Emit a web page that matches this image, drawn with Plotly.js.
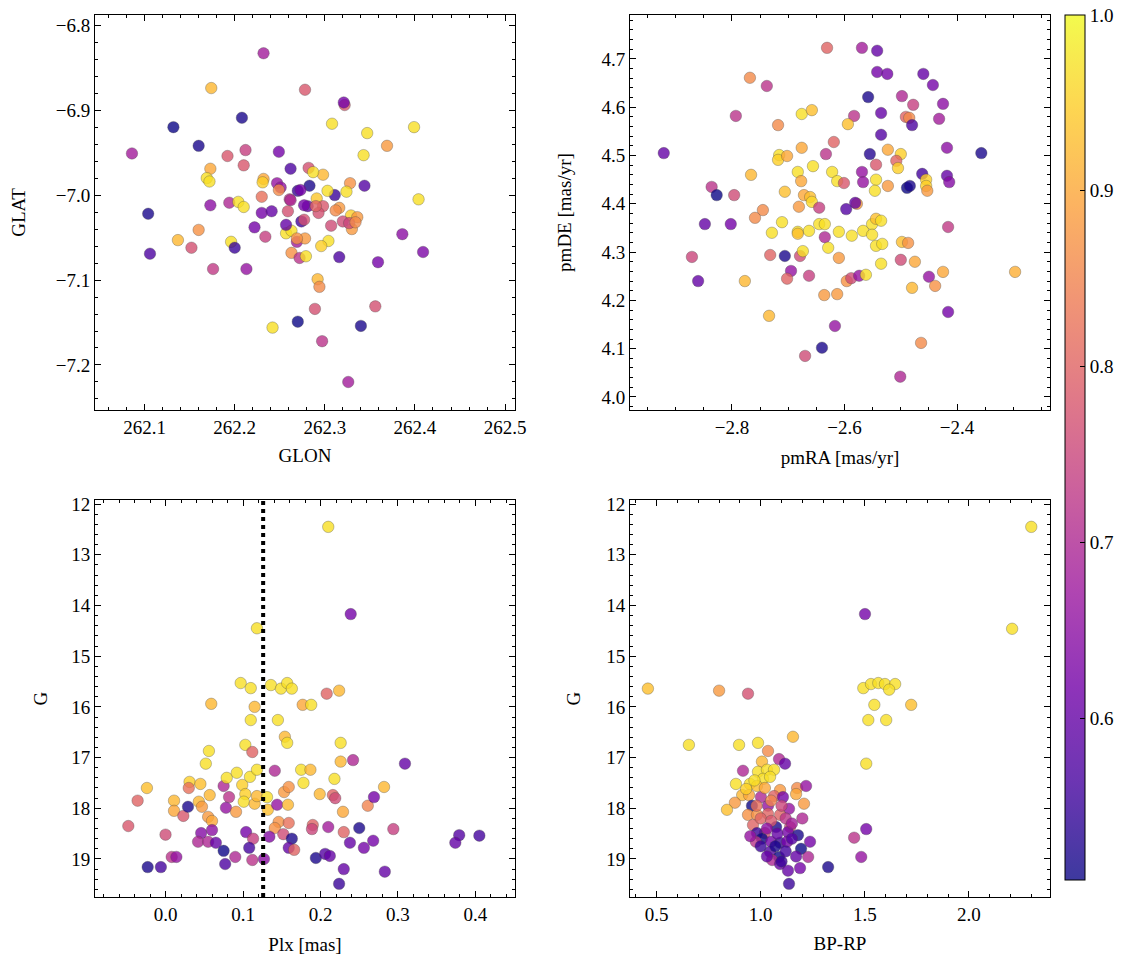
<!DOCTYPE html>
<html><head><meta charset="utf-8">
<script src="https://cdn.plot.ly/plotly-3.0.1.min.js"></script>
<style>html,body{margin:0;padding:0;background:#fff}#chart{width:1133px;height:965px}</style>
</head><body><div id="chart"></div>
<script>
// Panel 1: position
const glon = [262.232,262.174,262.278,262.132,262.208,262.086,262.160,262.192,262.212,262.210,262.249,262.262,262.282,262.173,262.169,262.172,262.232,262.231,262.230,262.247,262.251,262.270,262.261,262.173,262.194,262.204,262.210,262.104,262.230,262.241,262.322,262.321,262.308,262.347,262.399,262.369,262.343,262.404,262.344,262.328,262.324,262.311,262.298,262.287,262.283,262.273,262.303,262.291,262.281,262.298,262.316,262.222,262.234,262.274,262.257,262.263,262.269,262.263,262.272,262.160,262.137,262.152,262.106,262.196,262.200,262.176,262.213,262.242,262.270,262.386,262.409,262.316,262.359,262.292,262.294,262.289,262.356,262.340,262.297,262.326,262.304,262.296,262.279,262.277,262.293,262.329,262.336,262.320,262.307,262.330,262.278,262.249,262.262,262.259,262.290,262.312,262.277,262.327,262.334,262.257,262.269];
const glat = [-6.833,-6.874,-6.876,-6.920,-6.909,-6.951,-6.942,-6.954,-6.947,-6.965,-6.949,-6.969,-6.968,-6.969,-6.980,-6.984,-6.981,-6.985,-7.002,-6.986,-6.991,-6.995,-7.005,-7.012,-7.009,-7.008,-7.014,-7.022,-7.021,-7.019,-6.894,-6.891,-6.916,-6.927,-6.920,-6.942,-6.953,-7.005,-6.989,-6.986,-6.996,-7.000,-6.976,-6.973,-6.989,-6.994,-6.995,-7.004,-7.013,-7.013,-7.015,-7.038,-7.049,-7.031,-7.045,-7.042,-7.055,-7.068,-7.074,-7.041,-7.053,-7.062,-7.069,-7.055,-7.062,-7.087,-7.087,-7.156,-7.149,-7.046,-7.067,-7.073,-7.079,-7.099,-7.108,-7.134,-7.131,-7.154,-7.172,-7.220,-7.054,-7.060,-7.072,-7.012,-7.021,-7.024,-7.026,-7.031,-7.036,-7.040,-7.051,-6.994,-7.006,-7.019,-7.013,-7.018,-7.029,-7.033,-7.032,-7.035,-7.051];
const probPos = [0.68,0.92,0.78,0.50,0.52,0.68,0.52,0.78,0.74,0.78,0.62,0.57,0.77,0.90,0.97,0.97,0.90,0.95,0.82,0.66,0.66,0.55,0.72,0.65,0.70,0.97,0.97,0.52,0.62,0.60,0.78,0.62,0.97,0.97,0.97,0.88,0.97,0.97,0.58,0.87,0.97,0.55,0.92,0.97,0.52,0.62,0.97,0.94,0.60,0.78,0.88,0.62,0.74,0.56,0.97,0.97,0.68,0.87,0.72,0.87,0.92,0.77,0.57,0.97,0.55,0.73,0.66,0.97,0.50,0.65,0.63,0.57,0.62,0.92,0.86,0.77,0.77,0.52,0.72,0.68,0.97,0.95,0.97,0.62,0.77,0.95,0.88,0.76,0.76,0.88,0.88,0.86,0.70,0.77,0.80,0.86,0.77,0.75,0.86,0.60,0.87];

// Panel 2: proper motions
const pmra = [-2.631,-2.768,-2.738,-2.793,-2.676,-2.658,-2.718,-2.619,-2.633,-2.921,-2.716,-2.718,-2.702,-2.676,-2.656,-2.683,-2.677,-2.622,-2.613,-2.766,-2.836,-2.827,-2.796,-2.706,-2.672,-2.661,-2.658,-2.681,-2.745,-2.645,-2.569,-2.542,-2.542,-2.524,-2.460,-2.443,-2.558,-2.498,-2.478,-2.425,-2.535,-2.583,-2.594,-2.491,-2.485,-2.480,-2.432,-2.535,-2.523,-2.500,-2.508,-2.505,-2.555,-2.544,-2.418,-2.357,-2.569,-2.567,-2.601,-2.544,-2.546,-2.523,-2.462,-2.489,-2.484,-2.455,-2.455,-2.453,-2.418,-2.414,-2.578,-2.581,-2.597,-2.759,-2.848,-2.802,-2.711,-2.729,-2.683,-2.683,-2.663,-2.645,-2.635,-2.635,-2.629,-2.871,-2.732,-2.706,-2.679,-2.674,-2.695,-2.702,-2.663,-2.860,-2.777,-2.636,-2.613,-2.734,-2.617,-2.640,-2.670,-2.416,-2.587,-2.567,-2.551,-2.544,-2.535,-2.551,-2.544,-2.533,-2.610,-2.535,-2.500,-2.498,-2.487,-2.475,-2.425,-2.297,-2.450,-2.439,-2.480,-2.596,-2.588,-2.574,-2.562,-2.416,-2.464,-2.501,-2.610];
const pmde = [4.723,4.661,4.644,4.582,4.586,4.594,4.563,4.528,4.503,4.505,4.501,4.491,4.499,4.516,4.478,4.466,4.447,4.466,4.447,4.460,4.435,4.418,4.418,4.425,4.418,4.414,4.404,4.394,4.387,4.392,4.723,4.717,4.673,4.669,4.669,4.646,4.621,4.623,4.605,4.607,4.588,4.582,4.565,4.580,4.578,4.563,4.576,4.543,4.512,4.503,4.489,4.474,4.503,4.481,4.516,4.505,4.466,4.445,4.443,4.450,4.427,4.437,4.462,4.433,4.437,4.450,4.437,4.427,4.458,4.445,4.400,4.402,4.389,4.371,4.358,4.358,4.362,4.340,4.342,4.338,4.344,4.358,4.358,4.331,4.309,4.290,4.294,4.292,4.292,4.302,4.261,4.245,4.251,4.240,4.240,4.211,4.213,4.168,4.147,4.102,4.085,4.352,4.334,4.344,4.358,4.369,4.365,4.336,4.313,4.317,4.288,4.276,4.284,4.321,4.319,4.280,4.259,4.259,4.249,4.230,4.226,4.240,4.246,4.251,4.253,4.176,4.112,4.042,4.342];
const probPm = [0.80,0.86,0.72,0.72,0.97,0.93,0.86,0.80,0.72,0.60,0.97,0.95,0.90,0.90,0.97,0.97,0.90,0.97,0.97,0.92,0.72,0.50,0.76,0.93,0.90,0.93,0.96,0.88,0.86,0.74,0.68,0.60,0.62,0.62,0.60,0.62,0.52,0.70,0.74,0.65,0.60,0.72,0.93,0.80,0.86,0.57,0.68,0.58,0.90,0.95,0.80,0.95,0.53,0.78,0.65,0.52,0.66,0.66,0.78,0.97,0.97,0.88,0.56,0.50,0.52,0.95,0.95,0.88,0.60,0.64,0.88,0.60,0.58,0.86,0.60,0.62,0.97,0.97,0.97,0.93,0.97,0.97,0.97,0.70,0.97,0.75,0.80,0.52,0.76,0.97,0.66,0.80,0.74,0.60,0.92,0.88,0.88,0.92,0.66,0.52,0.76,0.73,0.97,0.97,0.97,0.93,0.97,0.97,0.97,0.97,0.88,0.97,0.76,0.93,0.87,0.90,0.90,0.91,0.66,0.87,0.92,0.87,0.76,0.66,0.97,0.62,0.86,0.70,0.97];

// Panel 3: parallax vs G
const plx = [0.097,0.110,0.136,0.149,0.157,0.163,0.059,0.115,0.110,0.145,0.154,0.157,0.103,0.112,0.056,0.052,0.141,0.031,0.045,-0.024,-0.036,-0.048,0.000,0.030,0.011,0.011,0.023,0.029,0.043,0.047,0.057,0.055,0.060,0.046,0.060,0.042,0.055,0.065,0.075,0.077,0.090,-0.023,-0.006,0.008,0.014,0.075,0.079,0.092,0.082,0.078,0.091,0.099,0.103,0.109,0.118,0.101,0.115,0.118,0.131,0.132,0.144,0.158,0.153,0.159,0.146,0.159,0.141,0.152,0.134,0.163,0.159,0.166,0.104,0.113,0.108,0.112,0.127,0.175,0.178,0.177,0.188,0.208,0.224,0.226,0.226,0.242,0.218,0.199,0.216,0.219,0.229,0.261,0.269,0.282,0.309,0.190,0.189,0.210,0.230,0.250,0.294,0.238,0.256,0.268,0.194,0.206,0.212,0.230,0.224,0.283,0.379,0.374,0.405,0.210,0.239,0.118,0.187];
const gPlx = [15.53,15.63,15.57,15.64,15.53,15.64,15.94,16.00,16.26,16.26,16.59,16.71,16.75,16.89,16.87,17.12,17.26,17.48,17.52,17.60,17.85,18.35,18.52,17.60,17.85,18.05,18.15,17.97,17.87,17.97,17.74,18.17,18.25,18.49,18.43,18.66,18.66,18.68,18.84,19.10,18.96,19.16,19.16,18.96,18.96,17.56,17.40,17.30,17.78,17.99,18.07,17.54,17.72,17.38,17.24,17.87,17.91,17.76,17.78,18.03,17.93,17.93,17.68,17.58,18.27,18.29,18.39,18.51,18.56,18.60,18.78,18.82,18.47,18.60,18.78,19.02,19.00,17.24,17.50,15.96,15.96,15.74,15.68,16.71,17.08,17.05,17.42,17.72,17.74,17.80,18.07,17.95,17.78,17.58,17.12,18.33,18.41,18.37,18.47,18.39,18.41,18.68,18.78,18.64,18.98,18.90,18.94,19.20,19.49,19.25,18.53,18.68,18.54,12.45,14.17,14.45,17.24];
const probPlx = [0.97,0.97,0.97,0.97,0.97,0.97,0.92,0.92,0.97,0.97,0.92,0.97,0.97,0.80,0.97,0.97,0.70,0.95,0.93,0.93,0.80,0.78,0.76,0.82,0.92,0.90,0.78,0.52,0.92,0.88,0.92,0.88,0.90,0.64,0.65,0.70,0.70,0.60,0.50,0.57,0.70,0.52,0.56,0.72,0.66,0.70,0.97,0.97,0.72,0.66,0.88,0.95,0.95,0.97,0.97,0.97,0.92,0.92,0.97,0.93,0.66,0.92,0.88,0.87,0.87,0.82,0.87,0.76,0.64,0.52,0.60,0.80,0.62,0.74,0.56,0.72,0.65,0.97,0.97,0.90,0.97,0.80,0.92,0.97,0.92,0.70,0.97,0.92,0.80,0.76,0.90,0.85,0.62,0.92,0.60,0.80,0.75,0.68,0.80,0.52,0.74,0.60,0.62,0.62,0.52,0.58,0.60,0.60,0.55,0.60,0.58,0.60,0.56,0.97,0.62,0.97,0.92];
const plxRef = 0.126;

// Panel 4: colour-magnitude diagram
const bprp = [2.300,1.501,2.208,0.458,0.655,0.800,0.939,1.493,1.530,1.565,1.597,1.646,1.617,1.546,1.517,1.603,1.723,1.507,1.507,1.449,1.483,0.896,0.987,1.155,1.035,1.006,1.088,1.117,0.915,0.987,1.030,1.064,1.011,1.045,0.881,0.948,0.982,1.093,1.175,1.218,0.911,0.944,0.876,0.838,1.001,1.035,1.064,1.107,0.958,1.136,1.208,0.939,0.982,1.035,1.093,0.963,1.074,1.141,1.020,1.131,1.179,1.237,0.982,1.006,0.977,1.050,1.093,1.127,1.194,1.228,1.045,1.088,1.055,1.093,1.131,1.189,1.324,1.136,0.930,0.970,1.020,1.050,0.980,1.100,1.000,1.050,1.120,1.150,1.030,1.080,1.150,1.000,1.070,1.120,1.170,1.030,1.100,0.950,1.200,1.170];
const gCmd = [12.45,14.17,14.46,15.64,16.75,15.68,15.74,15.63,15.55,15.53,15.55,15.55,15.66,15.96,16.26,16.26,15.96,17.12,18.41,18.58,18.96,16.75,16.71,16.59,16.87,17.08,17.03,17.12,17.26,17.28,17.24,17.24,17.42,17.38,17.52,17.52,17.56,17.64,17.60,17.56,17.74,17.74,17.89,18.03,17.78,17.95,17.76,17.78,17.95,18.01,17.91,18.13,18.13,18.11,18.13,18.33,18.37,18.37,18.49,18.47,18.53,18.66,18.49,18.60,18.66,18.66,18.68,18.66,18.80,18.96,18.86,18.96,19.02,19.10,19.23,19.18,19.16,19.49,17.62,17.45,17.60,17.85,17.95,17.95,18.20,18.25,18.20,18.30,18.40,18.50,18.60,18.75,18.75,18.85,18.95,18.95,19.05,18.55,18.20,17.72];
const probCmd = [0.97,0.62,0.97,0.93,0.97,0.88,0.77,0.97,0.97,0.97,0.97,0.97,0.97,0.97,0.97,0.97,0.93,0.97,0.62,0.72,0.66,0.97,0.97,0.92,0.86,0.92,0.70,0.60,0.70,0.97,0.97,0.97,0.97,0.97,0.97,0.97,0.93,0.88,0.86,0.66,0.92,0.90,0.88,0.93,0.70,0.66,0.80,0.62,0.50,0.66,0.88,0.87,0.87,0.80,0.80,0.80,0.52,0.76,0.76,0.62,0.52,0.62,0.55,0.50,0.72,0.62,0.55,0.62,0.50,0.70,0.58,0.50,0.70,0.60,0.60,0.62,0.52,0.55,0.95,0.97,0.90,0.85,0.82,0.75,0.80,0.78,0.72,0.68,0.65,0.60,0.58,0.55,0.52,0.56,0.60,0.60,0.55,0.66,0.70,0.90];

const probMin = 0.508, probMax = 1.0;
const plasma = ['#0d0887','#46039f','#7201a8','#9c179e','#bd3786','#d8576b','#ed7953','#fb9f3a','#fdca26','#f0f921'];
function rgba(h,a){const n=parseInt(h.slice(1),16);return `rgba(${(n>>16)&255},${(n>>8)&255},${n&255},${a})`;}
const cscale = plasma.map((c,i)=>[i/(plasma.length-1), rgba(c,0.8)]);

const FS = 19;
function scat(x,y,c,xa,ya,showScale){
  return {type:'scatter',mode:'markers',x:x,y:y,xaxis:xa,yaxis:ya,hoverinfo:'skip',
    marker:{size:11.5,color:c,colorscale:cscale,cmin:probMin,cmax:probMax,showscale:!!showScale,
      line:{width:0.6,color:'rgba(70,70,70,0.55)'},
      colorbar: showScale ? {x:1065/1133,xanchor:'left',xpad:0,y:1-15/965,yanchor:'top',ypad:0,len:865/965,lenmode:'fraction',
        thickness:20,outlinewidth:1,outlinecolor:'#000',tickvals:[0.6,0.7,0.8,0.9,1.0],tickformat:'.1f',
        ticks:'inside',ticklen:5,tickcolor:'#000',tickfont:{size:FS,color:'#000'}} : undefined}};
}

const font = {family:'"Liberation Serif", "DejaVu Serif", serif', size:FS, color:'#000'};
function ax(extra){
  return Object.assign({showline:true,linecolor:'#000',linewidth:1,mirror:'allticks',ticks:'inside',ticklen:6,tickwidth:1,tickcolor:'#000',
    showgrid:false,zeroline:false,tickfont:{size:FS}},extra);
}
function ttl(t,s){return {text:t,font:{size:FS},standoff:s};}
const xd1=[95/1133,515/1133], xd2=[630/1133,1050/1133];
const yd1=[1-410/965,1-15/965], yd2=[1-897/965,1-500/965];
const mn = (d)=>({ticks:'inside',ticklen:3,dtick:d,tickcolor:'#000'});

const layout = {
  width:1133,height:965,margin:{l:0,r:0,t:0,b:0},paper_bgcolor:'#fff',plot_bgcolor:'#fff',font:font,showlegend:false,
  xaxis: ax({domain:xd1,anchor:'y',range:[262.045,262.511],dtick:0.1,tick0:262.1,tickformat:'.1f',minor:Object.assign(mn(0.02),{tick0:262.1}),title:ttl('GLON',11)}),
  yaxis: ax({domain:yd1,anchor:'x',range:[-7.253,-6.788],dtick:0.1,tickformat:'.1f',minor:mn(0.02),title:ttl('GLAT',25)}),
  xaxis2: ax({domain:xd2,anchor:'y2',range:[-2.981,-2.235],dtick:0.2,tickformat:'.1f',minor:mn(0.05),title:ttl('pmRA [mas/yr]',13)}),
  yaxis2: ax({domain:yd1,anchor:'x2',range:[3.973,4.791],dtick:0.1,tickformat:'.1f',minor:mn(0.02),title:ttl('pmDE [mas/yr]',24)}),
  xaxis3: ax({domain:xd1,anchor:'y3',range:[-0.091,0.451],dtick:0.1,tickformat:'.1f',minor:mn(0.02),title:ttl('Plx [mas]',13)}),
  yaxis3: ax({domain:yd2,anchor:'x3',range:[19.75,11.92],dtick:1,minor:mn(0.2),title:ttl('G',18)}),
  xaxis4: ax({domain:xd2,anchor:'y4',range:[0.372,2.39],dtick:0.5,tickformat:'.1f',minor:mn(0.1),title:ttl('BP-RP',12)}),
  yaxis4: ax({domain:yd2,anchor:'x4',range:[19.75,11.92],dtick:1,minor:mn(0.2),title:ttl('G',20)}),
  shapes:[{type:'line',xref:'x3',yref:'y3 domain',x0:plxRef,x1:plxRef,y0:0,y1:1,line:{color:'#000',width:4,dash:'dot'},layer:'above'}]
};

const data = [
  scat(glon,glat,probPos,'x','y',true),
  scat(pmra,pmde,probPm,'x2','y2',false),
  scat(plx,gPlx,probPlx,'x3','y3',false),
  scat(bprp,gCmd,probCmd,'x4','y4',false)
];
Plotly.newPlot('chart',data,layout,{staticPlot:true,displayModeBar:false});
</script></body></html>
